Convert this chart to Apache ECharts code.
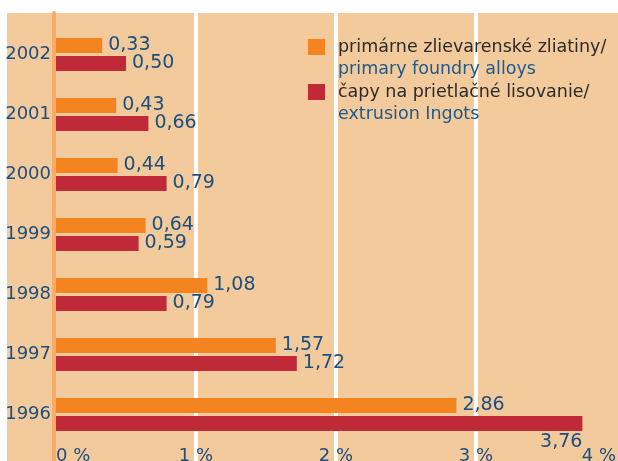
<!DOCTYPE html>
<html>
<head>
<meta charset="utf-8">
<script src="https://cdn.jsdelivr.net/npm/echarts@6/dist/echarts.min.js"></script>
<style>
  html, body { margin: 0; padding: 0; background: #ffffff; }
  #container { width: 618px; height: 461px; }
</style>
</head>
<body>
<div id="container"></div>
<script>
var dom = document.getElementById("container");
var myChart = echarts.init(dom);

// data
var years = ['2002', '2001', '2000', '1999', '1998', '1997', '1996'];
var foundry = [0.33, 0.43, 0.44, 0.64, 1.08, 1.57, 2.86];
var extrusion = [0.50, 0.66, 0.79, 0.59, 0.79, 1.72, 3.76];
var xTicks = [0, 1, 2, 3, 4];

var names = ['primárne zlievarenské zliatiny/', 'čapy na prietlačné lisovanie/'];
var namesEn = ['primary foundry alloys', 'extrusion Ingots'];

var FONT = 'DejaVu Sans';
var BLUE = '#1b4f80';
var ORANGE = '#f38420';
var RED = '#c02a38';

function fmt(v) {
    return v.toFixed(2).replace('.', ',');
}

// last red bar gets its label below the bar
var extrusionData = extrusion.map(function (v, i) {
    if (i == extrusion.length - 1) {
        return {
            value: v,
            label: {
                position: ['100%', '100%'],
                align: 'right',
                verticalAlign: 'top',
                offset: [0, 2]
            }
        };
    }
    return v;
});

function legendOf(i, top) {
    return {
        data: [names[i]],
        left: 308,
        top: top,
        padding: 0,
        itemWidth: 17,
        itemHeight: 16,
        icon: 'rect',
        selectedMode: false,
        formatter: function (name) {
            return '{a|' + name + '}\n{b|' + namesEn[i] + '}';
        },
        textStyle: {
            padding: [22, 0, 0, 8],
            fontFamily: FONT,
            fontSize: 17.5,
            rich: {
                a: { color: '#2b2b2b', fontFamily: FONT, fontSize: 17.5, lineHeight: 22 },
                b: { color: '#1c5a8e', fontFamily: FONT, fontSize: 17.5, lineHeight: 22 }
            }
        }
    };
}

var option = {
    animation: false,
    graphic: [{
        type: 'rect',
        z: -10,
        shape: { x: 7, y: 13, width: 611, height: 448 },
        style: { fill: '#f2ca9c' }
    }],
    legend: [legendOf(0, 38), legendOf(1, 83)],
    grid: [
        { left: 56, right: 2, top: 24.5, bottom: 16.5, outerBoundsMode: 'none' },
        { left: 56, right: 2, top: 13, bottom: 0, outerBoundsMode: 'none' }
    ],
    xAxis: [
        {
            gridIndex: 0,
            type: 'value',
            min: 0,
            max: 4,
            interval: 1,
            axisLine: { show: false },
            axisTick: { show: false },
            splitLine: { show: false },
            axisLabel: {
                margin: 3,
                color: BLUE,
                fontFamily: FONT,
                fontSize: 18,
                alignMinLabel: 'left',
                alignMaxLabel: 'right',
                formatter: function (v) { return xTicks.indexOf(v) >= 0 ? v + ' %' : ''; }
            }
        },
        {
            gridIndex: 1,
            type: 'value',
            min: 0,
            max: 4,
            interval: 1,
            axisLine: { show: false },
            axisTick: { show: false },
            axisLabel: { show: false },
            splitLine: {
                show: true,
                showMinLine: false,
                showMaxLine: false,
                lineStyle: { color: '#ffffff', width: 4 }
            }
        }
    ],
    yAxis: [
        {
            gridIndex: 0,
            type: 'category',
            inverse: true,
            data: years,
            axisLine: { show: false },
            axisTick: { show: false },
            axisLabel: {
                margin: 5,
                color: BLUE,
                fontFamily: FONT,
                fontSize: 18
            }
        },
        {
            gridIndex: 1,
            type: 'category',
            data: [''],
            offset: 2,
            axisLine: { show: true, onZero: false, lineStyle: { color: '#f8ac6c', width: 4 } },
            axisTick: { show: false },
            axisLabel: { show: false }
        }
    ],
    series: [
        {
            name: names[0],
            type: 'bar',
            xAxisIndex: 0,
            yAxisIndex: 0,
            data: foundry,
            barWidth: 15,
            barGap: '20%',
            itemStyle: { color: ORANGE },
            label: {
                show: true,
                position: 'right',
                distance: 6,
                color: BLUE,
                fontFamily: FONT,
                fontSize: 19,
                formatter: function (p) { return fmt(p.value); }
            }
        },
        {
            name: names[1],
            type: 'bar',
            xAxisIndex: 0,
            yAxisIndex: 0,
            data: extrusionData,
            barWidth: 15,
            barGap: '20%',
            itemStyle: { color: RED },
            label: {
                show: true,
                position: 'right',
                distance: 6,
                color: BLUE,
                fontFamily: FONT,
                fontSize: 19,
                formatter: function (p) { return fmt(p.value); }
            }
        }
    ]
};

myChart.setOption(option);
</script>
</body>
</html>
